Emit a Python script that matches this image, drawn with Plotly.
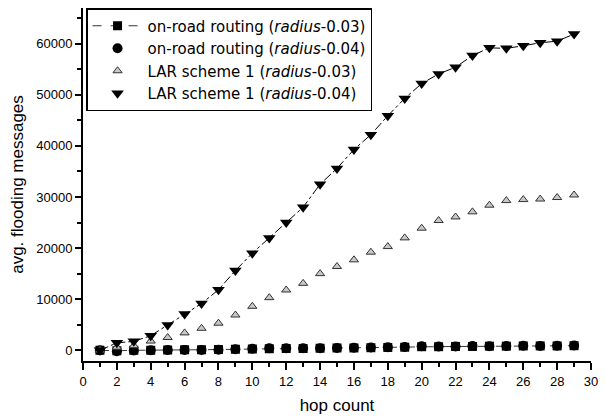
import plotly.graph_objects as go

hops = list(range(1, 30))

onroad_003 = [0, -100, 0, 0, 50, 100, 100, 150, 200, 250, 300, 350, 350, 400, 450,
              450, 500, 550, 600, 700, 700, 750, 750, 800, 800, 850, 850, 850, 900]
onroad_004 = [0, -200, -50, 0, 50, 50, 50, 100, 200, 300, 400, 400, 400, 400, 450,
              500, 550, 600, 650, 800, 750, 750, 850, 800, 850, 900, 850, 900, 950]
lar_003 = [0, 600, 900, 1800, 2500, 3400, 4300, 5300, 6900, 8600, 10300, 11800, 13100,
           15000, 16400, 17700, 19200, 20300, 22000, 23900, 25400, 26100, 27100, 28400,
           29300, 29500, 29600, 29900, 30400]
lar_004 = [0, 1450, 1750, 2850, 4950, 7100, 9150, 11850, 15600, 19000, 22000, 25000,
           28000, 32500, 35600, 39300, 42200, 45900, 49300, 52200, 54100, 55400, 57700,
           59200, 59100, 59600, 60200, 60500, 61900]

names = [
    "on-road routing (<i>radius</i>-0.03)",
    "on-road routing (<i>radius</i>-0.04)",
    "LAR scheme 1 (<i>radius</i>-0.03)",
    "LAR scheme 1 (<i>radius</i>-0.04)",
]

fig = go.Figure()

# dash-dot line for LAR 0.04 (not shown in legend)
fig.add_trace(go.Scatter(x=hops, y=lar_004, mode="lines",
                         line=dict(color="black", width=1, dash="dashdot"),
                         showlegend=False, hoverinfo="skip"))

fig.add_trace(go.Scatter(x=hops, y=onroad_003, mode="lines+markers", name=names[0],
                         line=dict(color="#333333", width=1, dash="dash"),
                         marker=dict(symbol="square", size=9, color="black")))
fig.add_trace(go.Scatter(x=hops, y=onroad_004, mode="markers", name=names[1],
                         marker=dict(symbol="circle", size=10, color="black")))
fig.add_trace(go.Scatter(x=hops, y=lar_003, mode="markers", name=names[2],
                         marker=dict(symbol="triangle-up", size=8, color="#c8c8c8",
                                     line=dict(color="#333333", width=1))))
fig.add_trace(go.Scatter(x=hops, y=lar_004, mode="markers", name=names[3],
                         marker=dict(symbol="triangle-down", size=11, color="black")))

fig.update_layout(
    width=606, height=420,
    margin=dict(l=83, r=10, t=8, b=55),
    paper_bgcolor="white", plot_bgcolor="white",
    font=dict(family="Liberation Sans, Arial", size=13, color="black"),
    showlegend=True,
    legend=dict(x=0.006, y=1.0, xanchor="left", yanchor="top",
                bordercolor="black", borderwidth=1.5, bgcolor="white",
                font=dict(family="DejaVu Sans", size=15), tracegroupgap=0, itemwidth=50),
)

fig.update_xaxes(
    range=[0, 30], tickmode="linear", tick0=0, dtick=2,
    showgrid=False, zeroline=False, showline=True, linecolor="black", linewidth=2,
    ticks="outside", ticklen=7, tickwidth=1.5, tickcolor="black",
    minor=dict(dtick=1, ticks="outside", ticklen=4, tickwidth=1.5, tickcolor="black"),
    title=dict(text="hop count", font=dict(size=17), standoff=12),
)
fig.update_yaxes(
    range=[-2100, 67000], tickmode="linear", tick0=0, dtick=10000, tickformat="d",
    showgrid=False, zeroline=False, showline=True, linecolor="black", linewidth=2,
    ticks="outside", ticklen=6, tickwidth=1.5, tickcolor="black",
    minor=dict(dtick=5000, ticks="outside", ticklen=4, tickwidth=1.5, tickcolor="black"),
    title=dict(text="avg. flooding messages", font=dict(size=17), standoff=8),
)

fig.write_html("out.html", config={"displayModeBar": False},
               post_script="document.body.style.margin='0';")
